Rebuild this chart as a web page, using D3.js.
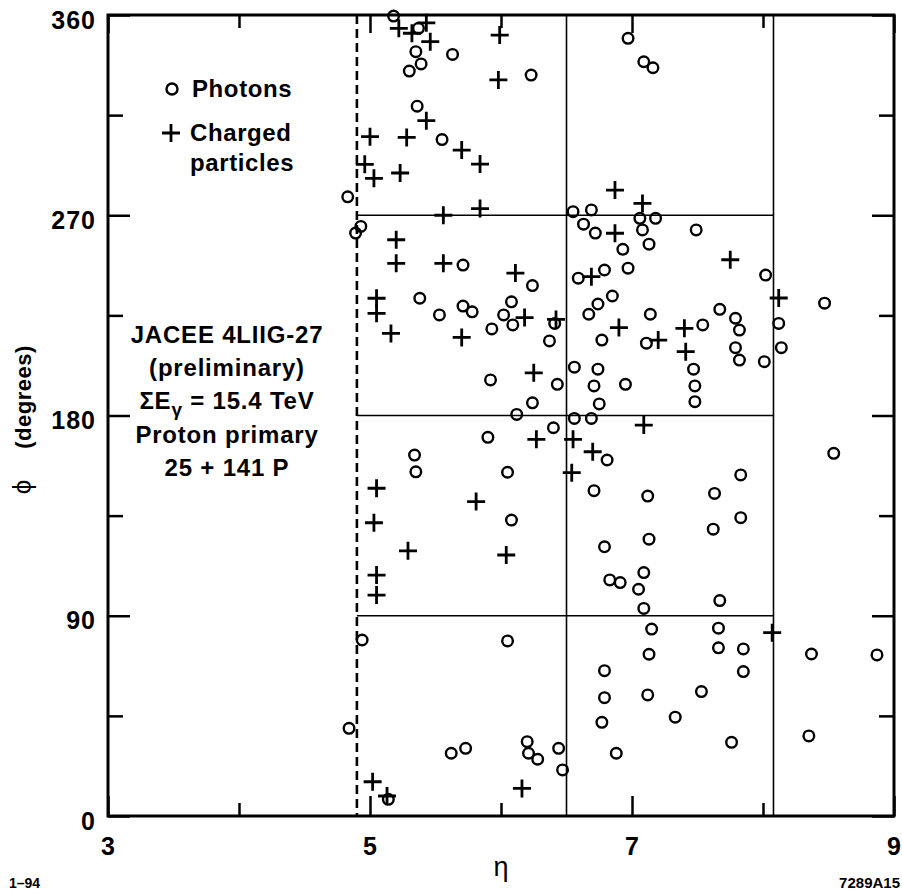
<!DOCTYPE html>
<html lang="en">
<head>
    <meta charset="UTF-8">
    <title>JACEE 4LIIG-27 eta-phi</title>
    <script src="https://cdn.jsdelivr.net/npm/d3@7"></script>
    <style>
        body { margin: 0; background: white; }
        svg text { font-family: "Liberation Sans", Arial, sans-serif; font-weight: bold; fill: black; }
        .frame { stroke: black; stroke-width: 3px; fill: none; }
        .grid { stroke: black; stroke-width: 1.6px; }
        .axis path { display: none; }
        .axis line { stroke: black; stroke-width: 2.5px; }
        .axis text { font-size: 25px; letter-spacing: 1px; }
    </style>
</head>
<body>
<script>
    // ---------------- data ----------------
    // photons: [eta, phi(deg)]
    const photons = [
        [5.18, 359.5], [5.37, 354], [5.35, 343.5], [5.39, 338], [5.30, 334.8],
        [5.63, 342.3], [6.23, 333], [5.36, 319], [5.55, 304], [4.83, 278.3],
        [4.93, 265], [4.89, 262], [5.71, 247.6], [6.24, 238.4], [6.55, 271.6],
        [6.69, 272.4], [6.63, 266], [6.72, 262], [7.06, 268.6], [7.18, 268.6],
        [7.08, 263.4], [6.93, 254.7], [7.13, 257], [7.49, 263.4], [8.02, 243.1],
        [6.97, 246.2], [6.59, 241.7], [6.79, 245.4], [6.97, 349.5], [7.09, 339],
        [7.16, 336.3], [8.47, 230.5], [8.12, 221.4], [8.14, 210.5], [7.67, 227.7],
        [7.79, 223.7], [7.82, 218.4], [7.79, 210.5], [7.82, 204.9], [8.01, 204.2],
        [7.54, 220.7], [7.47, 200.8], [7.48, 193.3], [7.48, 186.2], [7.11, 212.5],
        [7.14, 225.5], [6.77, 213.9], [6.67, 225.5], [6.74, 230.1], [6.85, 233.7],
        [6.56, 201.7], [6.74, 200.8], [6.71, 193.3], [6.95, 194.0], [6.75, 185.2],
        [6.56, 178.7], [6.69, 178.7], [6.81, 160], [6.71, 146.2], [7.12, 143.8],
        [7.63, 145], [7.83, 153.3], [8.54, 163], [7.62, 128.9], [7.83, 134.1],
        [7.13, 124.4], [6.79, 121.0], [7.09, 109.4], [5.71, 229.2], [5.78, 226.6],
        [6.08, 231.1], [6.02, 225.2], [6.09, 220.7], [5.93, 218.9], [6.41, 221.4],
        [6.37, 213.5], [5.92, 196], [6.43, 194], [6.24, 185.7], [6.12, 180.5],
        [6.40, 174.5], [5.90, 170.2], [6.05, 154.5], [6.08, 133], [5.38, 232.7],
        [5.53, 225.2], [5.34, 162.2], [5.35, 154.7], [4.94, 79.1], [6.05, 78.7],
        [4.84, 39.4], [5.62, 28.2], [5.73, 30.4], [6.20, 33.4], [6.21, 28.2],
        [6.28, 25.5], [6.44, 30.4], [6.47, 20.7], [5.14, 7.5], [6.83, 106.1],
        [6.91, 104.9], [7.05, 101.9], [7.09, 93.3], [7.67, 96.8], [7.15, 84],
        [7.66, 84.4], [7.66, 75.6], [7.85, 75.1], [7.85, 64.9], [7.13, 72.7],
        [8.37, 72.8], [8.87, 72.4], [6.79, 65.3], [6.79, 53.2], [6.77, 42.1],
        [7.12, 54.4], [7.53, 55.9], [7.33, 44.4], [7.76, 33.1], [8.35, 36],
        [6.88, 28.2]
    ];

    // charged particles: [eta, phi(deg)]
    const charged = [
        [5.22, 354], [5.32, 351.8], [5.43, 356.5], [5.46, 348], [5.99, 351],
        [5.98, 330.8], [5.43, 312.5], [5.00, 305.3], [5.28, 305], [5.70, 299.3],
        [5.84, 293], [4.96, 292.9], [5.03, 286.6], [5.23, 289], [5.84, 273],
        [5.56, 270], [5.20, 259], [5.20, 248.4], [5.56, 248.4], [6.11, 244],
        [6.87, 281.3], [7.08, 275.3], [6.87, 261.9], [7.75, 250], [6.69, 242.4],
        [8.12, 232.8], [7.40, 219.2], [7.41, 208.7], [7.20, 213.9], [6.90, 219.5],
        [7.09, 175.7], [6.55, 169.3], [6.70, 163.7], [6.54, 154.3], [6.18, 224],
        [5.70, 215.1], [6.42, 223.2], [6.25, 199.2], [6.27, 169.3], [5.81, 141.3],
        [6.04, 117.3], [5.05, 232.7], [5.05, 225.9], [5.16, 216.9], [5.05, 147.3],
        [5.03, 131.8], [5.29, 119.2], [5.05, 108.3], [5.05, 99.3], [5.02, 15.4],
        [5.13, 9], [6.16, 12.4], [8.07, 82.4]
    ];

    // axis ticks
    const xMajor = [3, 5, 7, 9];
    const xMinor = [4, 6, 8];
    const yMajor = [0, 90, 180, 270, 360];
    const yMinor = [45, 135, 225, 315];

    // cut lines: dashed eta cut, cell boundaries
    const etaCut = 4.9;
    const etaCells = [6.5, 8.08];
    const phiCells = [90, 180, 270];

    const annotation = ["JACEE 4LIIG-27", "(preliminary)", "SUM", "Proton primary", "25 + 141 P"];

    // ---------------- layout ----------------
    const W = 902, H = 894;
    const plot = { left: 108, right: 894, top: 15, bottom: 816 };

    const x = d3.scaleLinear().domain([3, 9]).range([plot.left, plot.right]);
    const y = d3.scaleLinear().domain([0, 360]).range([plot.bottom, plot.top]);

    const svg = d3.select("body").append("svg")
        .attr("width", W)
        .attr("height", H);

    // ---------------- ticks (inside) ----------------
    function addAxis(axisFn, scale, values, size, transform, labels) {
        const a = axisFn(scale).tickValues(values).tickSizeInner(size).tickSizeOuter(0);
        if (!labels) a.tickFormat("");
        else a.tickFormat(d3.format("d")).tickPadding(labels);
        return svg.append("g").attr("class", "axis").attr("transform", transform).call(a);
    }

    // left
    const yl = addAxis(d3.axisLeft, y, yMajor, -22, `translate(${plot.left},0)`, 12);
    yl.selectAll("text").attr("dy", "0.52em");
    addAxis(d3.axisLeft, y, yMinor, -15, `translate(${plot.left},0)`);
    // right
    addAxis(d3.axisRight, y, yMajor, -22, `translate(${plot.right},0)`);
    addAxis(d3.axisRight, y, yMinor, -15, `translate(${plot.right},0)`);
    // bottom
    addAxis(d3.axisBottom, x, xMajor, -20, `translate(0,${plot.bottom})`, 21);
    addAxis(d3.axisBottom, x, xMinor, -13, `translate(0,${plot.bottom})`);
    // top
    addAxis(d3.axisTop, x, xMajor, -18, `translate(0,${plot.top})`);
    addAxis(d3.axisTop, x, xMinor, -13, `translate(0,${plot.top})`);

    // frame
    svg.append("rect").attr("class", "frame")
        .attr("x", plot.left).attr("y", plot.top)
        .attr("width", plot.right - plot.left).attr("height", plot.bottom - plot.top);

    // ---------------- cell lines ----------------
    svg.append("line")
        .attr("x1", x(etaCut)).attr("x2", x(etaCut))
        .attr("y1", y(360)).attr("y2", y(0))
        .attr("stroke", "black").attr("stroke-width", 2.6)
        .attr("stroke-dasharray", "9,5");

    svg.selectAll(".vcell").data(etaCells).enter().append("line")
        .attr("class", "grid")
        .attr("x1", d => x(d)).attr("x2", d => x(d))
        .attr("y1", y(360)).attr("y2", y(0));

    svg.selectAll(".hcell").data(phiCells).enter().append("line")
        .attr("class", "grid")
        .attr("x1", x(etaCut)).attr("x2", x(etaCells[1]))
        .attr("y1", d => y(d)).attr("y2", d => y(d));

    // ---------------- markers ----------------
    function drawPlus(g, cx, cy, h) {
        g.append("path")
            .attr("d", `M${cx - h},${cy}H${cx + h}M${cx},${cy - h}V${cy + h}`)
            .attr("stroke", "black").attr("stroke-width", 2.8).attr("fill", "none");
    }

    svg.append("g").selectAll("circle").data(photons).enter().append("circle")
        .attr("cx", d => x(d[0])).attr("cy", d => y(d[1]))
        .attr("r", 5.3)
        .attr("fill", "none").attr("stroke", "black").attr("stroke-width", 2.4);

    const cg = svg.append("g");
    charged.forEach(d => drawPlus(cg, x(d[0]), y(d[1]), 9));

    // ---------------- legend ----------------
    const leg = svg.append("g").attr("font-size", 24).style("letter-spacing", "0.6px");
    leg.append("circle").attr("cx", 172).attr("cy", 89).attr("r", 5.5)
        .attr("fill", "none").attr("stroke", "black").attr("stroke-width", 2.4);
    leg.append("text").attr("x", 192).attr("y", 97).text("Photons");
    drawPlus(leg, 171, 133, 9);
    leg.append("text").attr("x", 190).attr("y", 141).text("Charged");
    leg.append("text").attr("x", 190).attr("y", 171).text("particles");

    // ---------------- annotation ----------------
    const ann = svg.append("g").attr("text-anchor", "middle").attr("font-size", 24)
        .style("letter-spacing", "0.8px");
    annotation.forEach((line, i) => {
        const t = ann.append("text").attr("x", 227).attr("y", 343 + i * 33.2);
        if (line === "SUM") {
            t.append("tspan").text("\u03A3E");
            t.append("tspan").attr("dy", 7).attr("font-size", 19).text("\u03B3");
            t.append("tspan").attr("dy", -7).text(" = 15.4 TeV");
        } else {
            t.text(line);
        }
    });

    // ---------------- axis titles ----------------
    svg.append("text").attr("x", x(6)).attr("y", 876)
        .attr("text-anchor", "middle").attr("font-size", 27)
        .style("font-weight", "normal").text("\u03B7");

    svg.append("text")
        .attr("transform", `translate(31,${487}) rotate(-90)`)
        .attr("text-anchor", "middle").attr("font-size", 26)
        .style("font-weight", "normal").text("\u03D5");
    svg.append("text")
        .attr("transform", `translate(31,${397}) rotate(-90)`)
        .attr("text-anchor", "middle").attr("font-size", 22)
        .style("letter-spacing", "0.5px")
        .text("(degrees)");

    // ---------------- footer ----------------
    svg.append("text").attr("x", 9).attr("y", 888).attr("font-size", 14).text("1\u201394");
    svg.append("text").attr("x", 900).attr("y", 888).attr("text-anchor", "end")
        .attr("font-size", 15).text("7289A15");
</script>
</body>
</html>
